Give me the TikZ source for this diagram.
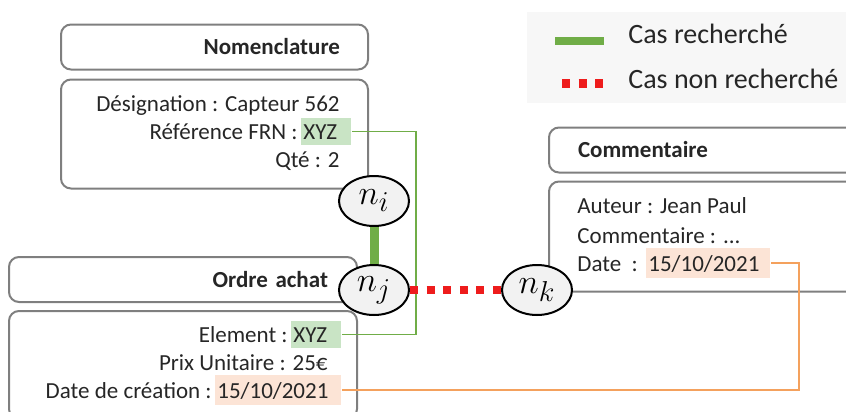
\documentclass[tikz,border=0pt]{standalone}
\usepackage{fontspec}
\setmainfont{Carlito}
\usepackage{tikz}
\usetikzlibrary{positioning,shapes.geometric}
\definecolor{boxgray}{HTML}{7F7F7F}
\definecolor{txtgray}{HTML}{262626}
\definecolor{okgreen}{HTML}{70AD47}
\definecolor{hlgreen}{HTML}{C9E4C5}
\definecolor{hlorange}{HTML}{FCE4D6}
\definecolor{linkorange}{HTML}{F4A15D}
\definecolor{nogored}{HTML}{EE1C1C}
\definecolor{legendbg}{HTML}{F7F7F7}

\begin{document}
\begin{tikzpicture}[x=0.5pt, y=-0.5pt,
    headbox/.style={draw=boxgray, line width=1pt, rounded corners=5pt, minimum height=22.5pt, inner ysep=0pt, font=\bfseries\fontsize{11.5}{14}\selectfont, text=txtgray},
    bodybox/.style={draw=boxgray, line width=1pt, rounded corners=5pt, inner sep=0pt},
    field/.style={inner sep=0pt, font=\fontsize{11.5}{14}\selectfont, text=txtgray},
    hlxyz/.style={field, fill=hlgreen, inner xsep=1pt, align=left, text width=23pt, text height=10.5pt, text depth=3pt},
    hldate/.style={field, fill=hlorange, inner xsep=1pt, align=left, text width=61pt, text height=11.5pt, text depth=3.5pt},
    casnode/.style={draw, ellipse, line width=1pt, fill=black!5, minimum width=35pt, minimum height=25pt, inner sep=0pt, font=\fontsize{19}{22}\selectfont},
    legtxt/.style={inner sep=0pt, font=\fontsize{14}{17}\selectfont, text=txtgray},
    linkok/.style={okgreen, line width=0.75pt},
    linkdate/.style={linkorange, line width=0.75pt},
    nogo/.style={nogored, line width=4pt, dash pattern=on 4pt off 4.3pt}
  ]
  \useasboundingbox (0,0) rectangle (846,412);
  \clip (0,0) rectangle (846,412);

  % legende
  \node[fill=legendbg, minimum width=170pt, minimum height=45.5pt, anchor=north west, inner sep=0pt] (legend) at (527,12) {};
  \coordinate (okA) at (555,41);
  \coordinate (okB) at (604,41);
  \coordinate (nogoA) at (562,83);
  \coordinate (nogoB) at (606,83);
  \draw[okgreen, line width=4pt] (okA) -- (okB);
  \draw[nogo, line width=4.5pt] (nogoA) -- (nogoB);
  \node[legtxt, anchor=base west] (legok) at (628,43) {Cas recherché};
  \node[legtxt, anchor=base west] (legnogo) at (628,88) {Cas non recherché};

  % Nomenclature
  \node[headbox, text width=125.5pt, inner xsep=14pt, align=right] (nomhead) at (214.5,47) {Nomenclature};
  \node[bodybox, minimum width=153.5pt, minimum height=54.5pt, below=4pt of nomhead] (nombody) {};
  \node[field, anchor=base east] (desig) at (340,111) {Désignation : Capteur 562};
  \node[hlxyz, anchor=base west] (refval) at (301,139) {XYZ};
  \node[field, anchor=base east] (reflbl) at ([xshift=-1.5pt]refval.base west) {Référence FRN :};
  \node[field, anchor=base east] (qte) at (340,167) {Qté : 2};

  % Ordre achat
  \node[headbox, text width=145pt, inner xsep=14.5pt, align=right] (ordhead) at (183,279.5) {Ordre achat};
  \node[bodybox, minimum width=174pt, minimum height=54pt, below=3.5pt of ordhead] (ordbody) {};
  \node[hlxyz, anchor=base west] (elemval) at (291,342) {XYZ};
  \node[field, anchor=base east] (elemlbl) at ([xshift=-1.5pt]elemval.base west) {Element :};
  \node[field, anchor=base east] (prix) at (328,370) {Prix Unitaire : 25€};
  \node[hldate, anchor=base west] (odate) at (215,398) {15/10/2021};
  \node[field, anchor=base east] (odatelbl) at ([xshift=-1.5pt]odate.base west) {Date de création :};

  % Commentaire
  \node[headbox, text width=132pt, inner xsep=14.5pt, align=left, anchor=west] (comhead) at (548,150) {Commentaire};
  \node[bodybox, minimum width=161pt, minimum height=55pt, below=3.5pt of comhead] (combody) {};
  \node[field, anchor=base west] (auteur) at (577,213) {Auteur : Jean Paul};
  \node[field, anchor=base west] (comtxt) at (577,243) {Commentaire : ...};
  \node[field, anchor=base west] (cdatelbl) at (577,271) {Date \ :};
  \node[hldate, anchor=base west, text width=60pt] (cdate) at (646,271) {15/10/2021};

  % liens entre attributs
  \draw[linkok] (refval.east) -- ++(64,0) |- (elemval.east);
  \draw[linkdate] (odate.east) -- ++(457,0) |- (cdate.east);

  % cas
  \node[casnode] (ni) at (374,201) {$n_i$};
  \node[casnode] (nj) at (374,290) {$n_j$};
  \node[casnode] (nk) at (537,290) {$n_k$};

  \draw[okgreen, line width=4.5pt] (ni) -- (nj);
  \draw[nogo] (nj) -- (nk);
\end{tikzpicture}
\end{document}
